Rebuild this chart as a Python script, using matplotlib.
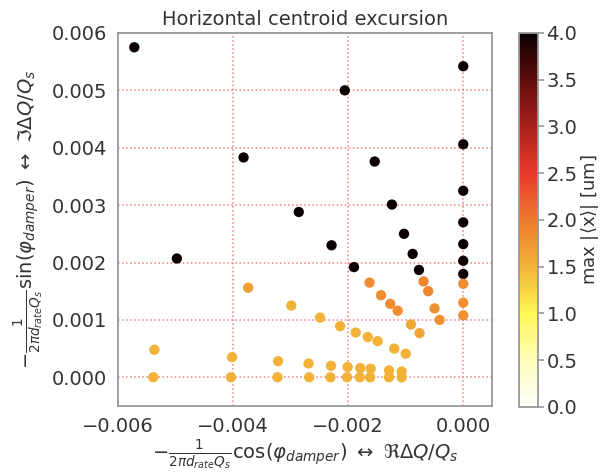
import numpy as np
import matplotlib
matplotlib.use("Agg")
import matplotlib.pyplot as plt
from matplotlib.colors import LinearSegmentedColormap

# ---- data ----
x_black = [-0.00572, -0.00382, -0.00286, -0.00206, -0.00154, -0.00124, -0.00498,
           -0.00229, -0.00103, -0.00088, -0.00190, -0.00077,
           0.0, 0.0, 0.0, 0.0, 0.0, 0.0, 0.0]
y_black = [0.00575, 0.00383, 0.00288, 0.00500, 0.00376, 0.00301, 0.00207,
           0.00230, 0.00250, 0.00215, 0.00192, 0.00187,
           0.00542, 0.00406, 0.00325, 0.00270, 0.00232, 0.00203, 0.00180]
c_black = [4.3] * len(x_black)

x_orange = [-0.00163, -0.00143, -0.00127, -0.00114, -0.00069, -0.00061,
            -0.00050, -0.00041, 0.0, 0.0, 0.0, -0.00374]
y_orange = [0.00165, 0.00143, 0.00128, 0.00116, 0.00167, 0.00150,
            0.00120, 0.00100, 0.00163, 0.00130, 0.00108, 0.00156]
c_orange = [1.85, 1.85, 1.85, 1.85, 1.9, 1.9, 1.8, 1.8, 1.85, 1.8, 1.8, 1.7]

x_light = [-0.00299, -0.00249, -0.00214, -0.00187, -0.00166, -0.00149, -0.00091,
           -0.00076, -0.00120, -0.00100,
           -0.00537, -0.00402, -0.00322, -0.00269, -0.00230, -0.00201, -0.00179,
           -0.00161, -0.00129, -0.00107,
           -0.00539, -0.00404, -0.00323, -0.00268, -0.00231, -0.00202, -0.00180,
           -0.00162, -0.00129, -0.00107]
y_light = [0.00125, 0.00104, 0.00089, 0.00078, 0.00070, 0.00063, 0.00092,
           0.00077, 0.00050, 0.00041,
           0.00048, 0.00035, 0.00028, 0.00024, 0.00020, 0.00018, 0.00016,
           0.00015, 0.00012, 0.00010,
           0.0, 0.0, 0.0, 0.0, 0.0, 0.0, 0.0, 0.0, 0.0, 0.0]
c_light = [1.5] * 6 + [1.6, 1.6] + [1.5] * 22

x_all = x_black + x_orange + x_light
y_all = y_black + y_orange + y_light
c_all = c_black + c_orange + c_light

xticks = [-0.006, -0.004, -0.002, 0.000]
yticks = [0.000, 0.001, 0.002, 0.003, 0.004, 0.005, 0.006]
cticks = [0.0, 0.5, 1.0, 1.5, 2.0, 2.5, 3.0, 3.5, 4.0]

# ---- style ----
plt.rcParams['font.family'] = ['DejaVu Sans']
plt.rcParams['mathtext.fontset'] = 'dejavusans'
txt = '#333333'
spine_c = '#999999'

cmap = LinearSegmentedColormap.from_list('excursion', [
    (0.000, (1.00, 1.00, 1.00)),
    (0.125, (1.00, 0.99, 0.72)),
    (0.250, (1.00, 0.97, 0.33)),
    (0.375, (0.95, 0.70, 0.22)),
    (0.500, (0.93, 0.48, 0.18)),
    (0.625, (0.91, 0.23, 0.17)),
    (0.750, (0.66, 0.13, 0.11)),
    (0.875, (0.38, 0.05, 0.05)),
    (1.000, (0.04, 0.00, 0.00)),
])

fig = plt.figure(figsize=(6.0, 4.74), dpi=100)
ax = fig.add_axes([0.197, 0.1435, 0.623, 0.787])
cax = fig.add_axes([0.865, 0.1415, 0.032, 0.789])

sc = ax.scatter(x_all, y_all, c=c_all, cmap=cmap, vmin=0, vmax=4, s=55,
                edgecolors='none', zorder=3)

ax.set_xlim(-0.006, 0.0005)
ax.set_ylim(-0.0005, 0.006)
ax.set_xticks(xticks)
ax.set_yticks(yticks)
ax.set_xticklabels([f'{v:.3f}'.replace('-', '\u2212') for v in xticks])
ax.set_yticklabels([f'{v:.3f}' for v in yticks])
ax.grid(True, color='#f08080', linestyle=':', linewidth=1.1, zorder=0)

for s in ax.spines.values():
    s.set_color(spine_c)
    s.set_linewidth(1.3)
ax.tick_params(axis='y', colors=spine_c, labelcolor=txt, labelsize=14, length=0, pad=8)
ax.tick_params(axis='x', colors=spine_c, labelcolor=txt, labelsize=14, length=0, pad=8)

ax.set_title('Horizontal centroid excursion', fontsize=14, color=txt, pad=6)
ax.set_xlabel(r'$-\frac{1}{2\pi d_{rate}Q_s}\cos(\varphi_{damper})\ \leftrightarrow\ \Re\Delta Q/Q_s$',
              fontsize=14, color=txt, labelpad=2)
ax.set_ylabel(r'$-\frac{1}{2\pi d_{rate}Q_s}\sin(\varphi_{damper})\ \leftrightarrow\ \Im\Delta Q/Q_s$',
              fontsize=14, color=txt, labelpad=4)

cb = fig.colorbar(sc, cax=cax)
cb.set_ticks(cticks)
cb.set_ticklabels([f'{v:.1f}' for v in cticks])
cb.outline.set_edgecolor(spine_c)
cb.outline.set_linewidth(1.3)
cax.tick_params(colors=spine_c, labelcolor=txt, labelsize=14, length=4, width=1.2, pad=2)
cb.set_label(r'max |$\langle$x$\rangle$| [um]', fontsize=13, color=txt, labelpad=1)

fig.savefig('out.png', dpi=100)
